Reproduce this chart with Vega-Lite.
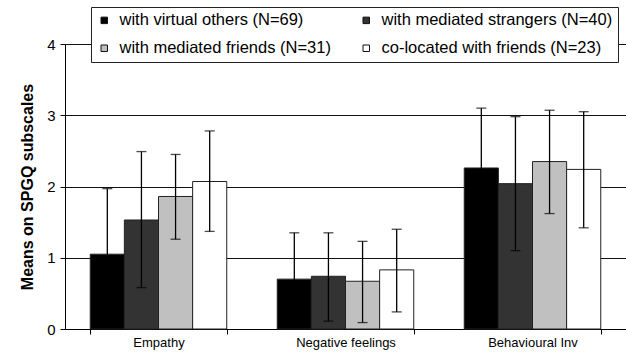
{
  "$schema": "https://vega.github.io/schema/vega-lite/v6.json",
  "autosize": "none",
  "width": 561,
  "height": 285,
  "padding": {"left": 65, "top": 44, "right": 0, "bottom": 27},
  "background": "white",
  "config": {
    "view": {"stroke": null},
    "font": "Arial, 'Liberation Sans', Helvetica, sans-serif",
    "axis": {"labelFont": "Arial, 'Liberation Sans', Helvetica, sans-serif", "titleFont": "Arial, 'Liberation Sans', Helvetica, sans-serif", "labelColor": "black", "titleColor": "black", "domainColor": "black", "tickColor": "black"},
    "legend": {"labelFont": "Arial, 'Liberation Sans', Helvetica, sans-serif"}
  },
  "data": {
    "values": [
      {"cat": "Empathy", "grp": "with virtual others (N=69)", "mean": 1.05, "lo": 0.13, "hi": 1.97},
      {"cat": "Empathy", "grp": "with mediated strangers (N=40)", "mean": 1.53, "lo": 0.58, "hi": 2.49},
      {"cat": "Empathy", "grp": "with mediated  friends (N=31)", "mean": 1.86, "lo": 1.26, "hi": 2.45},
      {"cat": "Empathy", "grp": "co-located with friends (N=23)", "mean": 2.07, "lo": 1.37, "hi": 2.78},
      {"cat": "Negative feelings", "grp": "with virtual others (N=69)", "mean": 0.70, "lo": 0.05, "hi": 1.35},
      {"cat": "Negative feelings", "grp": "with mediated strangers (N=40)", "mean": 0.74, "lo": 0.11, "hi": 1.35},
      {"cat": "Negative feelings", "grp": "with mediated  friends (N=31)", "mean": 0.67, "lo": 0.09, "hi": 1.23},
      {"cat": "Negative feelings", "grp": "co-located with friends (N=23)", "mean": 0.83, "lo": 0.24, "hi": 1.40},
      {"cat": "Behavioural Inv", "grp": "with virtual others (N=69)", "mean": 2.26, "lo": 1.42, "hi": 3.10},
      {"cat": "Behavioural Inv", "grp": "with mediated strangers (N=40)", "mean": 2.04, "lo": 1.10, "hi": 2.98},
      {"cat": "Behavioural Inv", "grp": "with mediated  friends (N=31)", "mean": 2.35, "lo": 1.62, "hi": 3.07},
      {"cat": "Behavioural Inv", "grp": "co-located with friends (N=23)", "mean": 2.24, "lo": 1.42, "hi": 3.05}
    ]
  },
  "encoding": {
    "x": {
      "field": "cat", "type": "nominal", "sort": ["Empathy", "Negative feelings", "Behavioural Inv"],
      "scale": {"paddingInner": 0.27, "paddingOuter": 0.135},
      "axis": {"title": null, "labelAngle": 0, "tickBand": "extent", "grid": false, "labelFontSize": 13, "tickSize": 5, "labelPadding": 2, "domainWidth": 1}
    },
    "xOffset": {
      "field": "grp", "type": "nominal",
      "sort": ["with virtual others (N=69)", "with mediated strangers (N=40)", "with mediated  friends (N=31)", "co-located with friends (N=23)"],
      "scale": {"paddingInner": 0, "paddingOuter": 0}
    }
  },
  "layer": [
    {
      "mark": {"type": "bar", "stroke": "#222222", "strokeWidth": 1},
      "encoding": {
        "y": {
          "field": "mean", "type": "quantitative",
          "scale": {"domain": [0, 4], "nice": false},
          "axis": {"title": "Means on SPGQ subscales", "values": [0, 1, 2, 3, 4], "format": "d", "grid": true, "gridColor": "#111111", "gridWidth": 1, "gridOpacity": 1, "labelFontSize": 15, "titleFontSize": 16, "titleFontWeight": "bold", "tickSize": 5, "labelPadding": 5, "titlePadding": 11}
        },
        "fill": {
          "field": "grp", "type": "nominal",
          "sort": ["with virtual others (N=69)", "with mediated strangers (N=40)", "with mediated  friends (N=31)", "co-located with friends (N=23)"],
          "scale": {"domain": ["with virtual others (N=69)", "with mediated strangers (N=40)", "with mediated  friends (N=31)", "co-located with friends (N=23)"], "range": ["#000000", "#333333", "#c0c0c0", "#ffffff"]},
          "legend": {
            "title": null, "orient": "none", "legendX": 26, "legendY": -37,
            "direction": "horizontal", "columns": 2, "gridAlign": "each", "columnPadding": 22, "rowPadding": 11,
            "padding": 5, "strokeColor": "#222222", "fillColor": "white",
            "labelFontSize": 16.5, "labelColor": "black", "labelLimit": 400,
            "symbolType": "square", "symbolSize": 42, "symbolStrokeColor": "#111111", "symbolStrokeWidth": 1, "symbolOpacity": 1, "labelOffset": 7
          }
        }
      }
    },
    {
      "mark": {"type": "rule", "color": "black", "strokeWidth": 1.3},
      "encoding": {
        "y": {"field": "lo", "type": "quantitative"},
        "y2": {"field": "hi"}
      }
    },
    {
      "mark": {"type": "tick", "color": "black", "thickness": 1.3, "size": 10, "orient": "horizontal"},
      "encoding": {"y": {"field": "lo", "type": "quantitative"}}
    },
    {
      "mark": {"type": "tick", "color": "black", "thickness": 1.3, "size": 10, "orient": "horizontal"},
      "encoding": {"y": {"field": "hi", "type": "quantitative"}}
    }
  ]
}
